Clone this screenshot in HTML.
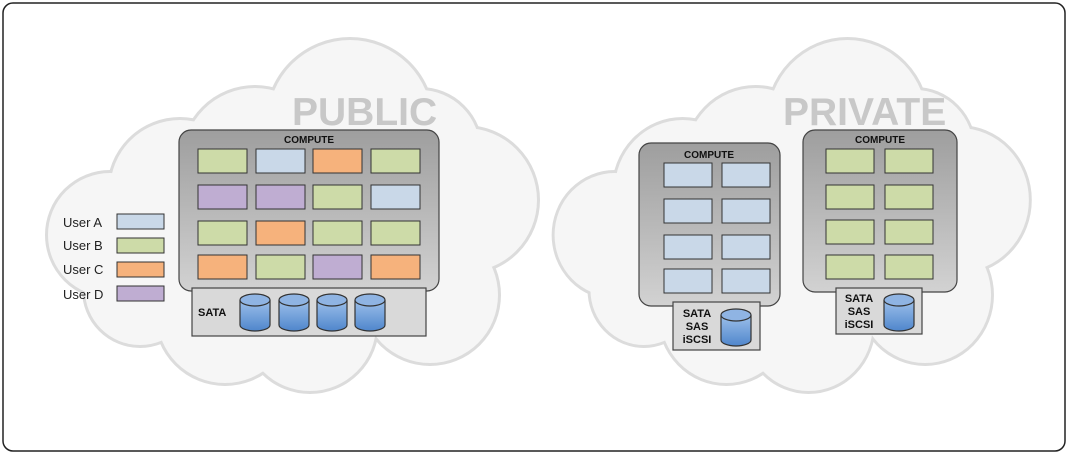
<!DOCTYPE html>
<html><head><meta charset="utf-8"><style>
html,body{margin:0;padding:0;background:#fff;}
svg{display:block;font-family:"Liberation Sans",Arial,sans-serif;}
</style></head><body>
<svg width="1068" height="454" viewBox="0 0 1068 454" xmlns="http://www.w3.org/2000/svg">
<defs>
<linearGradient id="cg" x1="0" y1="0" x2="0" y2="1"><stop offset="0" stop-color="#9e9e9e"/><stop offset="1" stop-color="#d2d2d2"/></linearGradient>
<linearGradient id="dg" x1="0" y1="0" x2="0" y2="1"><stop offset="0" stop-color="#9dc0ea"/><stop offset="1" stop-color="#4f86cc"/></linearGradient>
<g id="cloud">
<circle cx="110" cy="235" r="62"/><circle cx="180" cy="190" r="70"/><circle cx="255" cy="160" r="72"/>
<circle cx="350" cy="122" r="82"/><circle cx="465" cy="200" r="72"/><circle cx="430" cy="295" r="68"/>
<circle cx="310" cy="325" r="66"/><circle cx="225" cy="315" r="68"/><circle cx="140" cy="290" r="55"/>
<circle cx="300" cy="240" r="100"/><circle cx="420" cy="150" r="60"/>
</g>
<g id="cyl">
<path d="M0,6 L0,31 A15,6 0 0 0 30,31 L30,6" fill="url(#dg)" stroke="#333" stroke-width="1.2"/>
<ellipse cx="15" cy="6" rx="15" ry="6" fill="#8fb4e3" stroke="#333" stroke-width="1.2"/>
</g>
</defs>
<rect x="3" y="3" width="1062" height="448" rx="10" fill="#fff" stroke="#222" stroke-width="1.5"/>
<g stroke="#dcdcdc" stroke-width="6" fill="#dcdcdc"><use href="#cloud"/></g>
<g fill="#f6f6f6"><use href="#cloud"/></g>
<g transform="translate(508,0) scale(0.97,1)">
<g stroke="#dcdcdc" stroke-width="6" fill="#dcdcdc"><use href="#cloud"/></g>
<g fill="#f6f6f6"><use href="#cloud"/></g>
</g>
<text x="292" y="125" font-size="39" font-weight="bold" fill="#c8c8c8">PUBLIC</text>
<text x="783" y="125" font-size="39" font-weight="bold" fill="#c8c8c8">PRIVATE</text>

<g font-size="13" fill="#222">
<text x="63" y="227">User A</text><text x="63" y="250">User B</text><text x="63" y="274">User C</text><text x="63" y="299">User D</text>
</g>
<g stroke="#333" stroke-width="1">
<rect x="117" y="214" width="47" height="15" fill="#c9d8e8"/>
<rect x="117" y="238" width="47" height="15" fill="#cddba8"/>
<rect x="117" y="262" width="47" height="15" fill="#f6b27c"/>
<rect x="117" y="286" width="47" height="15" fill="#bfadd2"/>
</g>

<rect x="179" y="130" width="260" height="161" rx="12" fill="url(#cg)" stroke="#444" stroke-width="1.2"/>
<text x="309" y="143" font-size="10" font-weight="bold" text-anchor="middle" fill="#111">COMPUTE</text>
<g stroke="#333" stroke-width="1">
<rect x="198" y="149" width="49" height="24" fill="#cddba8"/><rect x="256" y="149" width="49" height="24" fill="#c9d8e8"/><rect x="313" y="149" width="49" height="24" fill="#f6b27c"/><rect x="371" y="149" width="49" height="24" fill="#cddba8"/>
<rect x="198" y="185" width="49" height="24" fill="#bfadd2"/><rect x="256" y="185" width="49" height="24" fill="#bfadd2"/><rect x="313" y="185" width="49" height="24" fill="#cddba8"/><rect x="371" y="185" width="49" height="24" fill="#c9d8e8"/>
<rect x="198" y="221" width="49" height="24" fill="#cddba8"/><rect x="256" y="221" width="49" height="24" fill="#f6b27c"/><rect x="313" y="221" width="49" height="24" fill="#cddba8"/><rect x="371" y="221" width="49" height="24" fill="#cddba8"/>
<rect x="198" y="255" width="49" height="24" fill="#f6b27c"/><rect x="256" y="255" width="49" height="24" fill="#cddba8"/><rect x="313" y="255" width="49" height="24" fill="#bfadd2"/><rect x="371" y="255" width="49" height="24" fill="#f6b27c"/>
</g>
<rect x="192" y="288" width="234" height="48" fill="#d9d9d9" stroke="#444" stroke-width="1.2"/>
<text x="198" y="316" font-size="11" font-weight="bold" fill="#111">SATA</text>
<use href="#cyl" x="240" y="294"/><use href="#cyl" x="279" y="294"/><use href="#cyl" x="317" y="294"/><use href="#cyl" x="355" y="294"/>

<rect x="639" y="143" width="141" height="163" rx="12" fill="url(#cg)" stroke="#444" stroke-width="1.2"/>
<text x="709" y="158" font-size="10" font-weight="bold" text-anchor="middle" fill="#111">COMPUTE</text>
<g stroke="#333" stroke-width="1" fill="#c9d8e8">
<rect x="664" y="163" width="48" height="24"/><rect x="722" y="163" width="48" height="24"/>
<rect x="664" y="199" width="48" height="24"/><rect x="722" y="199" width="48" height="24"/>
<rect x="664" y="235" width="48" height="24"/><rect x="722" y="235" width="48" height="24"/>
<rect x="664" y="269" width="48" height="24"/><rect x="722" y="269" width="48" height="24"/>
</g>
<rect x="673" y="302" width="87" height="48" fill="#d9d9d9" stroke="#444" stroke-width="1.2"/>
<g font-size="11" font-weight="bold" fill="#111" text-anchor="middle">
<text x="697" y="317">SATA</text><text x="697" y="330">SAS</text><text x="697" y="343">iSCSI</text>
</g>
<use href="#cyl" x="721" y="309"/>

<rect x="803" y="130" width="154" height="162" rx="12" fill="url(#cg)" stroke="#444" stroke-width="1.2"/>
<text x="880" y="143" font-size="10" font-weight="bold" text-anchor="middle" fill="#111">COMPUTE</text>
<g stroke="#333" stroke-width="1" fill="#cddba8">
<rect x="826" y="149" width="48" height="24"/><rect x="885" y="149" width="48" height="24"/>
<rect x="826" y="185" width="48" height="24"/><rect x="885" y="185" width="48" height="24"/>
<rect x="826" y="220" width="48" height="24"/><rect x="885" y="220" width="48" height="24"/>
<rect x="826" y="255" width="48" height="24"/><rect x="885" y="255" width="48" height="24"/>
</g>
<rect x="836" y="288" width="86" height="46" fill="#d9d9d9" stroke="#444" stroke-width="1.2"/>
<g font-size="11" font-weight="bold" fill="#111" text-anchor="middle">
<text x="859" y="302">SATA</text><text x="859" y="315">SAS</text><text x="859" y="328">iSCSI</text>
</g>
<use href="#cyl" x="884" y="294"/>
</svg>
</body></html>
